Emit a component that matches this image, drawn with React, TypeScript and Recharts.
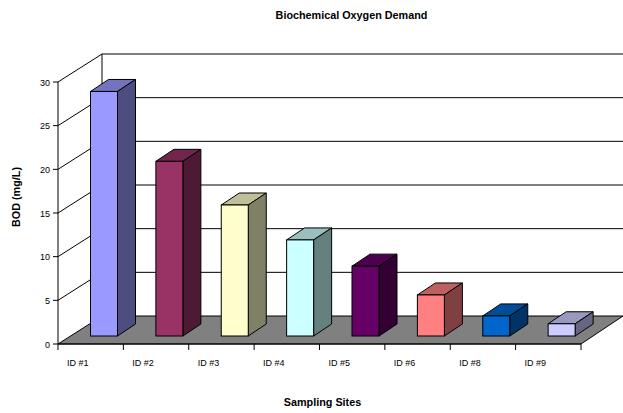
import { BarChart, Bar, XAxis, YAxis, CartesianGrid } from 'recharts'

const sitios = ['ID #1', 'ID #2', 'ID #3', 'ID #4', 'ID #5', 'ID #6', 'ID #8', 'ID #9']
const bod = [28, 20, 15, 11, 8, 4.7, 2.3, 1.4]
const frente = ['#9999FF', '#993366', '#FFFFCC', '#CCFFFF', '#660066', '#FF8080', '#0066CC', '#CCCCFF']
const lado = ['#4D4D80', '#4D1A33', '#808066', '#668080', '#330033', '#804040', '#003366', '#666680']
const topo = ['#7373BF', '#73264D', '#BFBF99', '#99BFBF', '#4D004D', '#BF6060', '#004D99', '#9999BF']
const marcasY = [0, 5, 10, 15, 20, 25, 30]

const dados = sitios.map((sitio, i) => ({ sitio, bod: bod[i], i }))

// profundidade da caixa do gráfico e das barras
const FUNDO_X = 44
const FUNDO_Y = 28
const BARRA_X = 18
const BARRA_Y = 12
const RECUO_X = 13.5
const RECUO_Y = 8
const LARGURA_BANDA = 65.4
const fonte = '"Liberation Sans", Arial, sans-serif'

// linhas de grade deslocadas para a parede do fundo
const LinhaFundo = ({ x, y, width, height, y1 }: any) => {
  const base = y + height
  if (Math.abs(y1 - base) < 1) {
    return (
      <path
        d={`M${x} ${y1} L${x + FUNDO_X} ${y1 - FUNDO_Y} H623 L${x + width} ${y1} Z`}
        fill="#808080"
        stroke="#000"
      />
    )
  }
  return (
    <g>
      {Math.abs(y1 - y) < 1 && (
        <line x1={x + FUNDO_X} y1={y1 - FUNDO_Y} x2={x + FUNDO_X} y2={base - FUNDO_Y} stroke="#000" />
      )}
      <path d={`M${x} ${y1} L${x + FUNDO_X} ${y1 - FUNDO_Y} H623`} fill="none" stroke="#000" />
    </g>
  )
}

const TickY = ({ x, y, payload }: any) => {
  const x0 = x + 8
  return (
    <g>
      <line x1={x0 - 5} y1={y} x2={x0} y2={y} stroke="#000" />
      <text x={x0 - 8} y={y + 3.5} textAnchor="end" fontSize={9} fontFamily={fonte} fill="#000">
        {payload.value}
      </text>
    </g>
  )
}

const TickX = ({ x, y, payload, index }: any) => {
  const esq = x - LARGURA_BANDA / 2
  return (
    <g>
      <line x1={esq} y1={344} x2={esq} y2={350} stroke="#000" />
      {index === sitios.length - 1 && (
        <line x1={esq + LARGURA_BANDA} y1={344} x2={esq + LARGURA_BANDA} y2={350} stroke="#000" />
      )}
      <text x={x - 13} y={y + 14} textAnchor="middle" fontSize={9} fontFamily={fonte} fill="#000">
        {payload.value}
      </text>
    </g>
  )
}

const Barra3D = ({ x, y, width, height, index }: any) => {
  const px = x + RECUO_X
  const py = y - RECUO_Y
  const dir = px + width
  const base = py + height
  return (
    <g stroke="#000" strokeWidth={1}>
      <path d={`M${px} ${py} l${BARRA_X} ${-BARRA_Y} h${width} l${-BARRA_X} ${BARRA_Y} Z`} fill={topo[index]} />
      <path d={`M${dir} ${py} l${BARRA_X} ${-BARRA_Y} V${base - BARRA_Y} l${-BARRA_X} ${BARRA_Y} Z`} fill={lado[index]} />
      <rect x={px} y={py} width={width} height={height} fill={frente[index]} />
    </g>
  )
}

export default function App() {
  return (
    <div style={{ position: 'absolute', left: 0, top: 0, width: 623, height: 413, background: '#fff' }}>
      <BarChart
        width={623}
        height={413}
        data={dados}
        margin={{ top: 82, right: 42, bottom: 0, left: 0 }}
        barCategoryGap={0}
      >
        <CartesianGrid vertical={false} horizontal={(props: any) => <LinhaFundo {...props} />} />
        <XAxis
          dataKey="sitio"
          height={69}
          stroke="#000"
          tickLine={false}
          interval={0}
          tick={<TickX />}
        />
        <YAxis
          width={58}
          domain={[0, 30]}
          ticks={marcasY}
          stroke="#000"
          tickLine={false}
          tick={<TickY />}
          interval={0}
        />
        <Bar dataKey="bod" barSize={27} isAnimationActive={false} shape={<Barra3D />} />
        <text x={351.5} y={19} textAnchor="middle" fontSize={10.8} fontWeight="bold" fontFamily={fonte}>
          Biochemical Oxygen Demand
        </text>
        <text x={322.5} y={406} textAnchor="middle" fontSize={10.8} fontWeight="bold" fontFamily={fonte}>
          Sampling Sites
        </text>
        <text
          x={20}
          y={197}
          textAnchor="middle"
          fontSize={10.8}
          fontWeight="bold"
          fontFamily={fonte}
          transform="rotate(-90 20 197)"
        >
          BOD (mg/L)
        </text>
      </BarChart>
    </div>
  )
}
